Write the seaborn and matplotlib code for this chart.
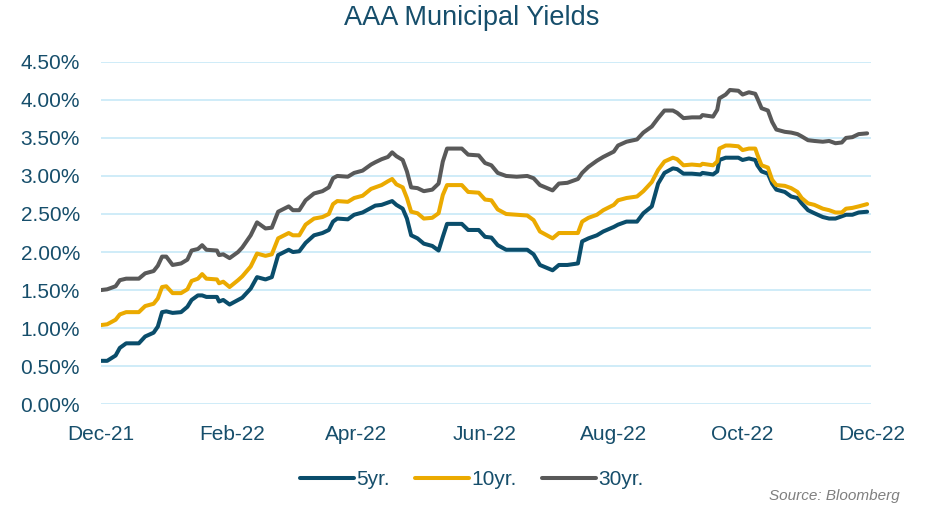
import matplotlib
matplotlib.use("Agg")
import matplotlib.pyplot as plt
import matplotlib.dates as mdates
from matplotlib.ticker import FuncFormatter, MultipleLocator
import seaborn as sns
import pandas as pd

dates = [
    "2021-12-01", "2021-12-04", "2021-12-08", "2021-12-10", "2021-12-13", "2021-12-19",
    "2021-12-22", "2021-12-26", "2021-12-28", "2021-12-30", "2022-01-01", "2022-01-04",
    "2022-01-08", "2022-01-11", "2022-01-13", "2022-01-16", "2022-01-18", "2022-01-20",
    "2022-01-25", "2022-01-26", "2022-01-28", "2022-01-31", "2022-02-04", "2022-02-06",
    "2022-02-10", "2022-02-13", "2022-02-17", "2022-02-20", "2022-02-23", "2022-02-28",
    "2022-03-02", "2022-03-05", "2022-03-08", "2022-03-12", "2022-03-16", "2022-03-19",
    "2022-03-21", "2022-03-23", "2022-03-28", "2022-03-31", "2022-04-04", "2022-04-08",
    "2022-04-10", "2022-04-13", "2022-04-16", "2022-04-18", "2022-04-20", "2022-04-23",
    "2022-04-25", "2022-04-27", "2022-04-30", "2022-05-03", "2022-05-07", "2022-05-10",
    "2022-05-12", "2022-05-14", "2022-05-21", "2022-05-24", "2022-05-29", "2022-06-01",
    "2022-06-04", "2022-06-07", "2022-06-11", "2022-06-16", "2022-06-21", "2022-06-24",
    "2022-06-27", "2022-07-03", "2022-07-06", "2022-07-10", "2022-07-15", "2022-07-17",
    "2022-07-20", "2022-07-24", "2022-07-27", "2022-08-01", "2022-08-03", "2022-08-07",
    "2022-08-12", "2022-08-15", "2022-08-19", "2022-08-22", "2022-08-25", "2022-08-29",
    "2022-08-31", "2022-09-03", "2022-09-07", "2022-09-11", "2022-09-12", "2022-09-17",
    "2022-09-19", "2022-09-20", "2022-09-23", "2022-09-25", "2022-09-29", "2022-10-01",
    "2022-10-04", "2022-10-07", "2022-10-08", "2022-10-10", "2022-10-13", "2022-10-15",
    "2022-10-17", "2022-10-21", "2022-10-24", "2022-10-27", "2022-10-29", "2022-11-01",
    "2022-11-04", "2022-11-08", "2022-11-11", "2022-11-14", "2022-11-17", "2022-11-19",
    "2022-11-22", "2022-11-25", "2022-11-29",
]

yield_5yr = [
    0.57, 0.57, 0.64, 0.74, 0.80, 0.80, 0.89, 0.94, 1.02, 1.21, 1.22, 1.20,
    1.21, 1.28, 1.37, 1.43, 1.43, 1.41, 1.41, 1.35, 1.37, 1.31, 1.37, 1.40,
    1.52, 1.67, 1.64, 1.67, 1.96, 2.03, 2.00, 2.01, 2.12, 2.22, 2.25, 2.29,
    2.40, 2.44, 2.43, 2.49, 2.52, 2.58, 2.61, 2.62, 2.65, 2.67, 2.62, 2.57,
    2.44, 2.22, 2.18, 2.11, 2.08, 2.02, 2.20, 2.37, 2.37, 2.29, 2.29, 2.20,
    2.19, 2.09, 2.03, 2.03, 2.03, 1.97, 1.83, 1.76, 1.83, 1.83, 1.85, 2.14,
    2.18, 2.22, 2.27, 2.33, 2.36, 2.40, 2.40, 2.51, 2.60, 2.90, 3.04, 3.10,
    3.09, 3.03, 3.03, 3.02, 3.04, 3.02, 3.06, 3.21, 3.24, 3.24, 3.24, 3.21,
    3.23, 3.21, 3.14, 3.06, 3.03, 2.90, 2.82, 2.79, 2.73, 2.71, 2.64, 2.55,
    2.51, 2.46, 2.44, 2.44, 2.47, 2.49, 2.49, 2.52, 2.53,
]

yield_10yr = [
    1.04, 1.05, 1.11, 1.18, 1.21, 1.21, 1.29, 1.32, 1.39, 1.54, 1.55, 1.46,
    1.46, 1.51, 1.62, 1.65, 1.71, 1.65, 1.64, 1.59, 1.61, 1.54, 1.63, 1.68,
    1.81, 1.98, 1.95, 1.97, 2.18, 2.25, 2.22, 2.22, 2.36, 2.44, 2.46, 2.50,
    2.63, 2.67, 2.66, 2.71, 2.74, 2.83, 2.85, 2.88, 2.93, 2.96, 2.89, 2.85,
    2.71, 2.53, 2.51, 2.44, 2.45, 2.51, 2.75, 2.88, 2.88, 2.79, 2.78, 2.69,
    2.68, 2.56, 2.50, 2.49, 2.48, 2.42, 2.27, 2.18, 2.25, 2.25, 2.25, 2.40,
    2.45, 2.49, 2.55, 2.62, 2.68, 2.71, 2.73, 2.80, 2.92, 3.08, 3.19, 3.24,
    3.22, 3.14, 3.15, 3.14, 3.16, 3.14, 3.19, 3.36, 3.40, 3.40, 3.39, 3.34,
    3.36, 3.36, 3.28, 3.14, 3.11, 2.95, 2.88, 2.87, 2.84, 2.79, 2.71, 2.64,
    2.62, 2.57, 2.55, 2.52, 2.52, 2.57, 2.58, 2.60, 2.63,
]

yield_30yr = [
    1.50, 1.51, 1.55, 1.63, 1.65, 1.65, 1.72, 1.75, 1.82, 1.94, 1.94, 1.83,
    1.85, 1.90, 2.02, 2.04, 2.09, 2.03, 2.02, 1.96, 1.97, 1.92, 2.00, 2.06,
    2.22, 2.39, 2.31, 2.32, 2.53, 2.60, 2.55, 2.55, 2.68, 2.77, 2.80, 2.85,
    2.97, 3.00, 2.99, 3.04, 3.07, 3.15, 3.18, 3.22, 3.25, 3.31, 3.26, 3.21,
    3.06, 2.85, 2.84, 2.80, 2.82, 2.90, 3.19, 3.36, 3.36, 3.28, 3.27, 3.17,
    3.14, 3.04, 3.00, 2.99, 3.00, 2.97, 2.88, 2.81, 2.90, 2.91, 2.96, 3.04,
    3.12, 3.20, 3.25, 3.32, 3.40, 3.45, 3.48, 3.57, 3.65, 3.76, 3.86, 3.86,
    3.83, 3.76, 3.77, 3.77, 3.80, 3.78, 3.87, 4.02, 4.07, 4.13, 4.12, 4.07,
    4.10, 4.08, 4.02, 3.89, 3.86, 3.71, 3.61, 3.58, 3.57, 3.55, 3.52, 3.47,
    3.46, 3.45, 3.46, 3.43, 3.44, 3.50, 3.51, 3.55, 3.56,
]

series_names = ["5yr.", "10yr.", "30yr."]
series_colors = ["#0A4D6B", "#EBAA00", "#595959"]
tick_dates = ["2021-12-01", "2022-02-01", "2022-04-01", "2022-06-01",
              "2022-08-01", "2022-10-01", "2022-12-01"]

df = pd.DataFrame({
    "date": pd.to_datetime(dates * 3),
    "value": yield_5yr + yield_10yr + yield_30yr,
    "series": [series_names[0]] * len(dates) + [series_names[1]] * len(dates)
              + [series_names[2]] * len(dates),
})

sns.set_theme(style="white")
plt.rcParams["font.family"] = ["Liberation Sans", "DejaVu Sans"]

text_color = "#164E6B"
fig = plt.figure(figsize=(9.25, 5.11), dpi=100)
ax = fig.add_axes([0.109, 0.209, 0.833, 0.670])

sns.lineplot(data=df, x="date", y="value", hue="series", palette=series_colors,
             hue_order=series_names, linewidth=2.9, ax=ax, legend=True)

ax.set_ylim(0, 4.5)
ax.yaxis.set_major_locator(MultipleLocator(0.5))
ax.yaxis.set_major_formatter(FuncFormatter(lambda v, p: f"{v:.2f}%"))
ax.set_xlim(pd.Timestamp("2021-12-01"), pd.Timestamp("2022-12-01"))
ax.set_xticks(pd.to_datetime(tick_dates))
ax.xaxis.set_major_formatter(mdates.DateFormatter("%b-%y"))
ax.grid(axis="y", color="#CBEAF8", linewidth=1.3)
ax.grid(axis="x", visible=False)
for s in ax.spines.values():
    s.set_visible(False)
ax.tick_params(axis="y", length=0, labelsize=15, colors=text_color, pad=15)
ax.tick_params(axis="x", length=0, labelsize=15, colors=text_color, pad=15)
ax.set_xlabel("")
ax.set_ylabel("")
ax.set_axisbelow(True)

fig.text(0.51, 0.964, "AAA Municipal Yields", ha="center", va="center",
         fontsize=19.5, color=text_color)

handles, labels = ax.get_legend_handles_labels()
ax.legend(handles, labels, loc="center", bbox_to_anchor=(0.51, 0.061),
          bbox_transform=fig.transFigure, ncol=3, frameon=False, fontsize=15,
          labelcolor=text_color, handlelength=2.6, handletextpad=0.1,
          columnspacing=1.2)

fig.text(0.973, 0.016, "Source: Bloomberg", ha="right", va="bottom",
         fontsize=11, style="italic", color="#7F7F7F")

fig.savefig("out.png", dpi=100)
